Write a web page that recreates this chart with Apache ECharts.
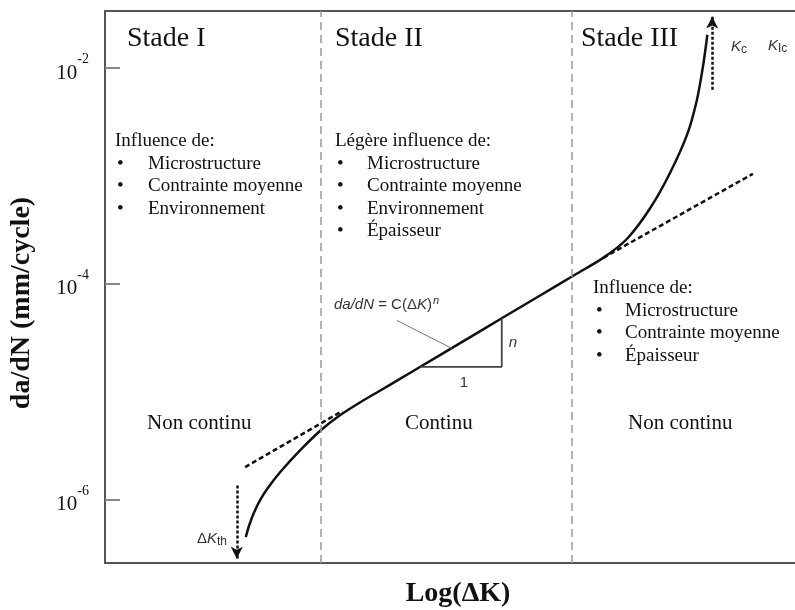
<!DOCTYPE html>
<html>
<head>
<meta charset="utf-8">
<script src="https://cdn.jsdelivr.net/npm/echarts@6/dist/echarts.min.js"></script>
<style>
  html, body { margin: 0; padding: 0; background: #fff; }
  #chart { width: 795px; height: 610px; }
</style>
</head>
<body>
<div id="chart"></div>
<script>
// Fatigue crack growth curve: x = log(ΔK) in arbitrary units, y = log10(da/dN)
const curveLogK    = [2.04, 2.09, 2.16, 2.25, 2.36, 2.54, 2.83, 3.12, 3.41, 3.70, 3.99, 4.28, 4.57, 5.14, 5.75, 6.30, 6.78, 7.22, 7.57, 7.90, 8.19, 8.44, 8.58, 8.67, 8.73];
const curveLogRate = [-6.350, -6.240, -6.121, -6.004, -5.894, -5.746, -5.543, -5.363, -5.218, -5.099, -4.990, -4.880, -4.770, -4.553, -4.320, -4.111, -3.928, -3.760, -3.580, -3.300, -2.970, -2.610, -2.290, -1.970, -1.690];

// Tangent lines (dashed) at the start of stage II and beyond it
const nearThresholdK    = [2.03, 3.44];
const nearThresholdRate = [-5.70, -5.18];
const parisExtK         = [7.22, 9.39];
const parisExtRate      = [-3.76, -2.98];

// Stage boundaries on the log ΔK axis
const stageBounds = [3.12, 6.77];

// Threshold ΔKth and critical Kc arrows
const deltaKth = 1.91, deltaKthFrom = -5.87, deltaKthTo = -6.55;
const kCrit = 8.80, kCritFrom = -2.20, kCritTo = -1.52;

// Slope triangle of the Paris law (run 1, rise n)
const slopeK    = [4.57, 5.75];
const slopeRate = [-4.77, -4.32];

// Leader from the Paris law formula to the line
const leaderK    = [4.23, 5.03];
const leaderRate = [-4.34, -4.60];

// Decades shown on the rate axis
const rateTicks = [-6, -4, -2];

const xMin = 0, xMax = 10, yMin = -6.59, yMax = -1.47;

const toPairs = (xs, ys) => xs.map((x, i) => [x, ys[i]]);

const serif = '"Liberation Serif", "Times New Roman", serif';
const sans = '"Liberation Sans", Arial, sans-serif';

const chart = echarts.init(document.getElementById('chart'), null, { renderer: 'canvas' });

function textEl(x, y, text, size, opts) {
  opts = opts || {};
  return {
    type: 'text', x: x, y: y, rotation: opts.rotation || 0, silent: true,
    style: {
      text: text,
      font: (opts.style || 'normal') + ' ' + (opts.weight || 'normal') + ' ' + size + 'px ' + (opts.family || serif),
      fill: opts.color || '#111',
      align: opts.align || 'left',
      verticalAlign: 'middle',
      rich: opts.rich
    }
  };
}

function block(x, y, heading, items, bulletX, itemX) {
  const els = [textEl(x, y, heading, 19)];
  items.forEach((it, i) => {
    const yy = y + 22.6 * (i + 1);
    els.push(textEl(bulletX, yy, '•', 19));
    els.push(textEl(itemX, yy, it, 19));
  });
  return els;
}

const kRich = {
  i: { fontStyle: 'italic', fontSize: 15, fontFamily: sans, fill: '#333' },
  s: { fontSize: 12, fontFamily: sans, fill: '#333', verticalAlign: 'bottom', padding: [6, 0, 0, 0] }
};

const graphics = [].concat(
  textEl(127, 39, 'Stade I', 28),
  textEl(335, 39, 'Stade II', 28),
  textEl(581, 39, 'Stade III', 28),
  block(115, 141, 'Influence de:', ['Microstructure', 'Contrainte moyenne', 'Environnement'], 117, 148),
  block(335, 141, 'Légère influence de:', ['Microstructure', 'Contrainte moyenne', 'Environnement', 'Épaisseur'], 337, 367),
  block(593, 288, 'Influence de:', ['Microstructure', 'Contrainte moyenne', 'Épaisseur'], 596, 625),
  textEl(147, 423, 'Non continu', 21),
  textEl(405, 423, 'Continu', 21),
  textEl(628, 423, 'Non continu', 21),
  textEl(22, 303, 'da/dN (mm/cycle)', 28, { weight: 'bold', align: 'center', rotation: Math.PI / 2 }),
  textEl(458, 594, 'Log(ΔK)', 28, { weight: 'bold', align: 'center' }),
  textEl(334, 305, '{i|da/dN} = C(Δ{i|K}){s|n}', 15, {
    family: sans, color: '#333',
    rich: {
      i: { fontStyle: 'italic', fontSize: 15, fontFamily: sans, fill: '#333' },
      s: { fontStyle: 'italic', fontSize: 11, fontFamily: sans, fill: '#333', verticalAlign: 'top', padding: [0, 0, 8, 1] }
    }
  }),
  textEl(464, 383, '1', 15, { family: sans, color: '#333', align: 'center' }),
  textEl(513, 343, 'n', 15, { family: sans, color: '#333', align: 'center', style: 'italic' }),
  textEl(197, 539, 'Δ{i|K}{s|th}', 15, { family: sans, color: '#333', rich: kRich }),
  textEl(731, 47, '{i|K}{s|c}', 15, { family: sans, color: '#333', rich: kRich }),
  textEl(768, 46, '{i|K}{s|Ic}', 15, { family: sans, color: '#333', rich: kRich })
);

const lineColor = '#555';

const option = {
  animation: false,
  backgroundColor: '#fff',
  grid: { left: 105, right: 0, top: 11, bottom: 47, containLabel: false },
  xAxis: [
    {
      type: 'value', min: xMin, max: xMax,
      axisLine: { show: true, lineStyle: { color: lineColor, width: 2 } },
      axisTick: { show: false }, axisLabel: { show: false }, splitLine: { show: false }
    },
    {
      type: 'value', min: xMin, max: xMax, position: 'top',
      axisLine: { show: true, lineStyle: { color: lineColor, width: 2 } },
      axisTick: { show: false }, axisLabel: { show: false }, splitLine: { show: false }
    }
  ],
  yAxis: {
    type: 'value', min: yMin, max: yMax,
    axisLine: { show: true, lineStyle: { color: lineColor, width: 2 } },
    axisTick: { show: true, inside: true, length: 15, customValues: rateTicks, lineStyle: { color: '#888', width: 2 } },
    axisLabel: {
      show: true, margin: 16, customValues: rateTicks,
      formatter: v => '{b|10}{s|' + v + '}',
      rich: {
        b: { fontSize: 21, fontFamily: serif, color: '#111', padding: [10, 0, 0, 0] },
        s: { fontSize: 14, fontFamily: serif, color: '#111', verticalAlign: 'top' }
      }
    },
    splitLine: { show: false }
  },
  graphic: graphics,
  series: [
    {
      name: 'da/dN', type: 'line', data: toPairs(curveLogK, curveLogRate),
      smooth: 0.25, showSymbol: false, silent: true,
      lineStyle: { color: '#111', width: 2.5 },
      markLine: {
        silent: true, symbol: ['none', 'none'], label: { show: false },
        lineStyle: { color: '#9a9a9a', width: 1.5, type: [8, 5] },
        data: stageBounds.map(b => ({ xAxis: b }))
      }
    },
    {
      name: 'seuil', type: 'line', data: toPairs(nearThresholdK, nearThresholdRate),
      showSymbol: false, silent: true,
      lineStyle: { color: '#111', width: 2.5, type: [5, 3] }
    },
    {
      name: 'Paris', type: 'line', data: toPairs(parisExtK, parisExtRate),
      showSymbol: false, silent: true,
      lineStyle: { color: '#111', width: 2.5, type: [5, 3] }
    },
    {
      name: 'pente', type: 'line',
      data: [[slopeK[0], slopeRate[0]], [slopeK[1], slopeRate[0]], [slopeK[1], slopeRate[1]]],
      showSymbol: false, silent: true,
      lineStyle: { color: '#444', width: 1.8 }
    },
    {
      name: 'renvoi', type: 'line', data: toPairs(leaderK, leaderRate),
      showSymbol: false, silent: true,
      lineStyle: { color: '#777', width: 1 }
    },
    {
      name: 'fleches', type: 'line', data: [], silent: true,
      markLine: {
        silent: true, symbol: ['none', 'arrow'], symbolSize: [9, 12], label: { show: false },
        lineStyle: { color: '#111', width: 2.5, type: [3, 2] },
        data: [
          [{ coord: [deltaKth, deltaKthFrom] }, { coord: [deltaKth, deltaKthTo] }],
          [{ coord: [kCrit, kCritFrom] }, { coord: [kCrit, kCritTo] }]
        ]
      }
    }
  ]
};

chart.setOption(option);
</script>
</body>
</html>
